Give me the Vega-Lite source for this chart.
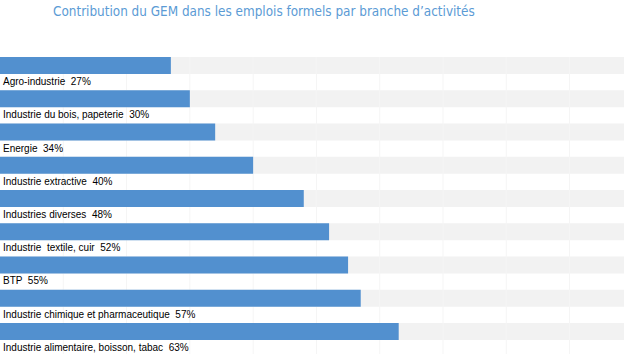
{
  "$schema": "https://vega.github.io/schema/vega-lite/v6.json",
  "width": 624,
  "height": 299,
  "autosize": "none",
  "padding": {"left": 0, "top": 57, "right": 0, "bottom": 0},
  "background": "white",
  "config": {"view": {"stroke": null}},
  "title": {
    "text": "Contribution du GEM dans les emplois formels par branche d’activités",
    "anchor": "start",
    "frame": "group",
    "dx": 53,
    "offset": 38,
    "font": "DejaVu Sans Condensed",
    "fontSize": 13.4,
    "fontWeight": "normal",
    "color": "#5b9bd5"
  },
  "datasets": {
    "rows": [
      {"branche": "Agro-industrie", "pct": 27, "full": 100, "label": "Agro-industrie \u00a027%"},
      {"branche": "Industrie du bois, papeterie", "pct": 30, "full": 100, "label": "Industrie du bois, papeterie \u00a030%"},
      {"branche": "Energie", "pct": 34, "full": 100, "label": "Energie \u00a034%"},
      {"branche": "Industrie extractive", "pct": 40, "full": 100, "label": "Industrie extractive \u00a040%"},
      {"branche": "Industries diverses", "pct": 48, "full": 100, "label": "Industries diverses \u00a048%"},
      {"branche": "Industrie  textile, cuir", "pct": 52, "full": 100, "label": "Industrie \u00a0textile, cuir \u00a052%"},
      {"branche": "BTP", "pct": 55, "full": 100, "label": "BTP \u00a055%"},
      {"branche": "Industrie chimique et pharmaceutique", "pct": 57, "full": 100, "label": "Industrie chimique et pharmaceutique \u00a057%"},
      {"branche": "Industrie alimentaire, boisson, tabac", "pct": 63, "full": 100, "label": "Industrie alimentaire, boisson, tabac \u00a063%"}
    ],
    "grid": [
      {"t": 10}, {"t": 20}, {"t": 30}, {"t": 40}, {"t": 50}, {"t": 60}, {"t": 70}, {"t": 80}, {"t": 90}
    ]
  },
  "layer": [
    {
      "data": {"name": "rows"},
      "mark": {"type": "bar", "color": "#f2f2f2", "height": 17, "yOffset": -8},
      "encoding": {
        "y": {"field": "branche", "type": "nominal", "sort": null, "axis": null, "scale": {"paddingInner": 0, "paddingOuter": 0}},
        "x": {"field": "full", "type": "quantitative", "axis": null, "scale": {"domain": [0, 98.6], "nice": false, "zero": true}}
      }
    },
    {
      "data": {"name": "grid"},
      "mark": {"type": "rule", "color": "#f5f5f5", "strokeWidth": 1},
      "encoding": {
        "x": {"field": "t", "type": "quantitative"}
      }
    },
    {
      "data": {"name": "rows"},
      "mark": {"type": "bar", "color": "#5290cf", "height": 17, "yOffset": -8},
      "encoding": {
        "y": {"field": "branche", "type": "nominal", "sort": null},
        "x": {"field": "pct", "type": "quantitative"}
      }
    },
    {
      "data": {"name": "rows"},
      "mark": {"type": "text", "align": "left", "baseline": "middle", "dx": 3, "dy": 8.5, "font": "Liberation Sans", "fontSize": 10, "color": "#000000"},
      "encoding": {
        "y": {"field": "branche", "type": "nominal", "sort": null},
        "x": {"datum": 0},
        "text": {"field": "label"}
      }
    }
  ],
  "resolve": {"scale": {"x": "shared", "y": "shared"}}
}
